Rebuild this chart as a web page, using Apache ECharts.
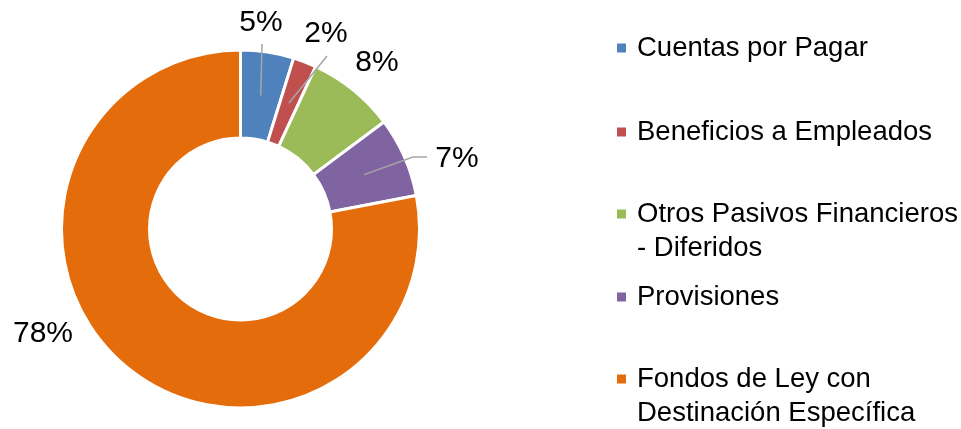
<!DOCTYPE html>
<html>
<head>
<meta charset="utf-8">
<script src="https://cdn.jsdelivr.net/npm/echarts@6/dist/echarts.min.js"></script>
<style>
  html, body { margin: 0; padding: 0; background: #fff; }
  #chart { width: 961px; height: 429px; }
</style>
</head>
<body>
<div id="chart"></div>
<script>
// datos
var categorias = ['Cuentas por Pagar', 'Beneficios a Empleados', 'Otros Pasivos Financieros', 'Provisiones', 'Fondos de Ley con Destinación Específica'];
var etiquetasLeyenda = ['Cuentas por Pagar', 'Beneficios a Empleados', 'Otros Pasivos Financieros\n- Diferidos', 'Provisiones', 'Fondos de Ley con\nDestinación Específica'];
var valores = [4.8, 2.1, 7.9, 7.2, 78.0];
var colores = ['#4f81bd', '#c0504d', '#9bbb59', '#8064a2', '#e46c0a'];

var FUENTE = "'Liberation Sans', Arial, sans-serif";
var centro = [240.5, 229];
var radios = [91, 179];

// posicion de etiquetas (centro del texto) y extremo de la linea guia
var posEtiquetas = [[261, 23], [326, 34], [377, 63], [457, 159], [43, 334]];
var guias = [
	[[262, 44]],
	[[327, 56]],
	null,
	[[413, 157], [427, 157]],
	null
];
var topLeyenda = [31, 115, 163, 280, 328];

var myChart = echarts.init(document.getElementById('chart'));

var total = 0;
for (var i = 0; i < valores.length; i++) total += valores[i];

// angulo medio de cada porcion (grados, sentido horario desde arriba)
function anguloMedio(idx) {
	var acum = 0;
	for (var k = 0; k < idx; k++) acum += valores[k];
	return (acum + valores[idx] / 2) / total * 360;
}

var datos = [], datosEtiquetas = [];
for (var i = 0; i < valores.length; i++) {
	datos.push({
		name : categorias[i],
		value : valores[i],
		itemStyle : { color : colores[i] }
	});
	datosEtiquetas.push({
		name : categorias[i],
		value : valores[i],
		labelLine : { show : guias[i] != null }
	});
}

var leyendas = [];
for (var i = 0; i < categorias.length; i++) {
	var txt = etiquetasLeyenda[i];
	// texto de dos lineas: linea vacia arriba para alinear el icono con la primera linea
	if (txt.indexOf('\n') >= 0) txt = ' \n' + txt;
	leyendas.push({
		orient : 'vertical',
		left : 615,
		top : topLeyenda[i],
		padding : 0,
		itemWidth : 11,
		itemHeight : 11,
		icon : 'rect',
		selectedMode : false,
		data : [categorias[i]],
		formatter : (function(t) { return function() { return t; }; })(txt),
		textStyle : {
			fontFamily : FUENTE,
			fontSize : 27.5,
			lineHeight : 34,
			color : '#000',
			padding : [0, 0, 0, 5]
		}
	});
}

var option = {
	animation : false,
	color : colores,
	legend : leyendas,
	series : [ {
		// anillo
		type : 'pie',
		z : 2,
		center : centro,
		radius : radios,
		startAngle : 90,
		clockwise : true,
		silent : true,
		data : datos,
		itemStyle : {
			borderColor : '#fff',
			borderWidth : 3
		},
		label : { show : false },
		labelLine : { show : false }
	}, {
		// etiquetas y lineas guia (encima del anillo)
		type : 'pie',
		z : 5,
		center : centro,
		radius : radios,
		startAngle : 90,
		clockwise : true,
		silent : true,
		avoidLabelOverlap : false,
		data : datosEtiquetas,
		itemStyle : {
			color : 'rgba(0,0,0,0)',
			borderWidth : 0
		},
		label : {
			show : true,
			position : 'outside',
			fontFamily : FUENTE,
			fontSize : 30,
			color : '#000',
			formatter : function(p) {
				return Math.round(p.value / total * 100) + '%';
			}
		},
		labelLine : {
			show : true,
			showAbove : true,
			lineStyle : { color : '#a6a6a6', width : 1.5 }
		},
		labelLayout : function(params) {
			var i = params.dataIndex;
			var res = {
				x : posEtiquetas[i][0],
				y : posEtiquetas[i][1],
				align : 'center',
				verticalAlign : 'middle'
			};
			if (guias[i]) {
				var a = anguloMedio(i) * Math.PI / 180;
				var rm = (radios[0] + radios[1]) / 2;
				var ini = [centro[0] + rm * Math.sin(a), centro[1] - rm * Math.cos(a)];
				var pts = [ini].concat(guias[i]);
				if (pts.length == 2) pts.push(guias[i][0]);
				res.labelLinePoints = pts;
			}
			return res;
		}
	} ]
};

myChart.setOption(option);
</script>
</body>
</html>
